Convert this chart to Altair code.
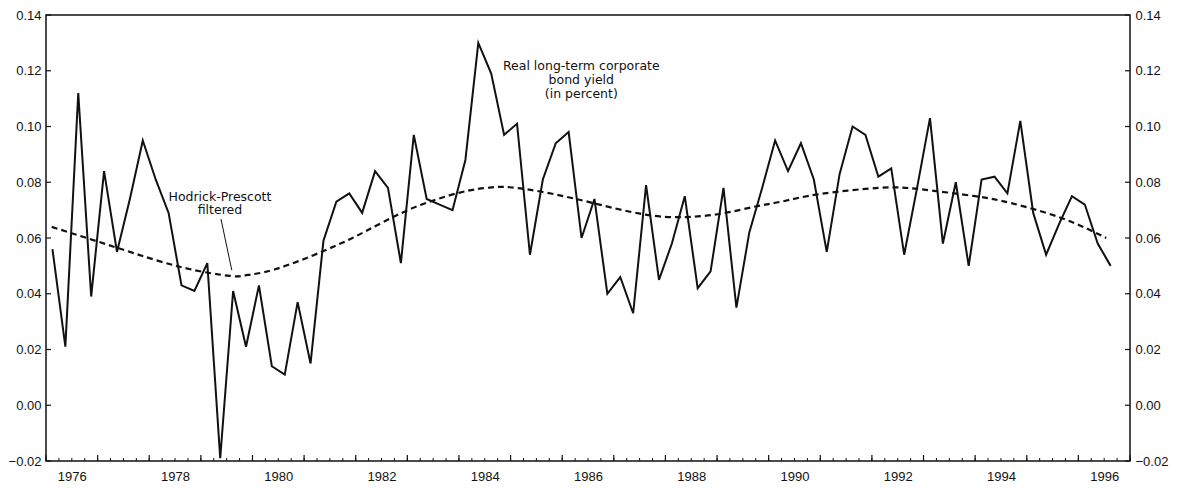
import altair as alt
import pandas as pd

# Real long-term corporate bond yield, quarterly from 1976Q1 to 1996Q3
start_year = 1976
bond_yield = [
    0.056, 0.021, 0.112, 0.039, 0.084, 0.055, 0.074, 0.095,
    0.081, 0.069, 0.043, 0.041, 0.051, -0.019, 0.041, 0.021,
    0.043, 0.014, 0.011, 0.037, 0.015, 0.059, 0.073, 0.076,
    0.069, 0.084, 0.078, 0.051, 0.097, 0.074, 0.072, 0.070,
    0.088, 0.130, 0.119, 0.097, 0.101, 0.054, 0.081, 0.094,
    0.098, 0.060, 0.074, 0.040, 0.046, 0.033, 0.079, 0.045,
    0.058, 0.075, 0.042, 0.048, 0.078, 0.035, 0.062, 0.078,
    0.095, 0.084, 0.094, 0.081, 0.055, 0.083, 0.100, 0.097,
    0.082, 0.085, 0.054, 0.078, 0.103, 0.058, 0.080, 0.050,
    0.081, 0.082, 0.076, 0.102, 0.069, 0.054, 0.065, 0.075,
    0.072, 0.058, 0.050,
]

# Hodrick-Prescott filtered trend, sampled along the curve
hp_year = [
    1976.11, 1977.41, 1978.65, 1979.57, 1979.86, 1980.44, 1981.41,
    1982.18, 1983.05, 1984.02, 1984.60, 1984.99, 1985.63, 1986.29,
    1986.74, 1987.61, 1988.38, 1989.10, 1989.74, 1990.26, 1991.00,
    1992.16, 1992.94, 1994.00, 1994.70, 1995.67, 1996.54,
]
hp_value = [
    0.064, 0.0563, 0.0494, 0.0464, 0.0466, 0.0488, 0.0556,
    0.0623, 0.0703, 0.0763, 0.0781, 0.0782, 0.0765, 0.0739,
    0.0719, 0.0684, 0.0675, 0.0688, 0.0713, 0.0731, 0.0758,
    0.0780, 0.0775, 0.0750, 0.0725, 0.0672, 0.0600,
]

# Axis labels and tick positions
y_ticks = [-0.02, 0.0, 0.02, 0.04, 0.06, 0.08, 0.10, 0.12, 0.14]
label_years = [1976, 1978, 1980, 1982, 1984, 1986, 1988, 1990, 1992, 1994, 1996]
year_ticks = list(range(1976, 1998))
quarter_ticks = [start_year + i / 4 for i in range(21 * 4 + 1)]

# Annotations: (x, y, text)
notes_x = [1986.37, 1986.37, 1986.37, 1979.37, 1979.37]
notes_y = [0.1217, 0.1167, 0.1115, 0.0746, 0.0699]
notes_text = ["Real long-term corporate", "bond yield", "(in percent)",
              "Hodrick-Prescott", "filtered"]
leader = {"x": [1979.39], "y": [0.0668], "x2": [1979.60], "y2": [0.0484]}

W, H = 1084, 446
FONT = "Liberation Sans"
NOTE_FONT = "DejaVu Sans"
INK = "#111111"

yield_df = pd.DataFrame({
    "t": [start_year + (i + 0.5) / 4 for i in range(len(bond_yield))],
    "v": bond_yield,
})
hp_df = pd.DataFrame({"t": hp_year, "v": hp_value})
notes_df = pd.DataFrame({"t": notes_x, "v": notes_y, "label": notes_text})
leader_df = pd.DataFrame(leader)
yt_df = pd.DataFrame({"v": y_ticks})
qt_df = pd.DataFrame({"t": quarter_ticks})
yr_df = pd.DataFrame({"t": year_ticks})

x_scale = alt.Scale(domain=[1976, 1997], nice=False, zero=False)
y_scale = alt.Scale(domain=[-0.02, 0.14], nice=False, zero=False)

x_axis = alt.Axis(
    values=[y + 0.5 for y in label_years],
    labelExpr="'' + floor(datum.value)",
    ticks=False, domain=False, grid=False, title=None,
    labelFont=FONT, labelFontSize=13, labelColor=INK,
    labelPadding=9, labelFlush=False, labelOverlap=False,
)


def y_axis(orient):
    return alt.Axis(
        orient=orient, values=y_ticks, format=".2f",
        ticks=False, domain=False, grid=False, title=None,
        labelFont=FONT, labelFontSize=13, labelColor=INK,
        labelPadding=5, labelFlush=False, labelOverlap=False,
    )


X = alt.X("t:Q", scale=x_scale, axis=x_axis)
Y_plain = alt.Y("v:Q", scale=y_scale, axis=None)

yield_line = alt.Chart(yield_df).mark_line(
    color=INK, strokeWidth=2, strokeJoin="miter"
).encode(x=X, y=alt.Y("v:Q", scale=y_scale, axis=y_axis("left")))

hp_line = alt.Chart(hp_df).mark_line(
    color=INK, strokeWidth=2.2, strokeDash=[6, 4], interpolate="natural"
).encode(x=X, y=Y_plain)

notes = alt.Chart(notes_df).mark_text(
    font=NOTE_FONT, fontSize=12.5, color=INK, align="center", baseline="middle"
).encode(x=X, y=Y_plain, text="label:N")

leader_rule = alt.Chart(leader_df).mark_rule(color=INK, strokeWidth=1).encode(
    x=X, y=Y_plain, x2="x2:Q", y2="y2:Q"
).transform_calculate(t="datum.x", v="datum.y")

# Inward tick marks on the frame
left_ticks = alt.Chart(yt_df).mark_rule(color=INK, strokeWidth=1.2).encode(
    y=Y_plain, x=alt.value(0), x2=alt.value(5)
)
right_ticks = alt.Chart(yt_df).mark_rule(color=INK, strokeWidth=1.2).encode(
    y=alt.Y("v:Q", scale=y_scale, axis=y_axis("right")),
    x=alt.value(W), x2=alt.value(W - 5),
)
quarter_marks = alt.Chart(qt_df).mark_rule(color=INK, strokeWidth=1).encode(
    x=X, y=alt.value(H), y2=alt.value(H - 3)
)
year_marks = alt.Chart(yr_df).mark_rule(color=INK, strokeWidth=1.2).encode(
    x=X, y=alt.value(H), y2=alt.value(H - 6)
)

chart = alt.layer(
    yield_line, hp_line, notes, leader_rule,
    left_ticks, right_ticks, quarter_marks, year_marks,
).resolve_scale(
    y="independent"
).properties(
    width=W, height=H,
    padding={"left": 46, "top": 15, "right": 48, "bottom": 28},
    autosize=alt.AutoSizeParams(type="none"),
    background="white",
).configure_view(
    stroke=INK, strokeWidth=1.5
)

chart.save("out.html", embed_options={"renderer": "svg", "actions": False})
